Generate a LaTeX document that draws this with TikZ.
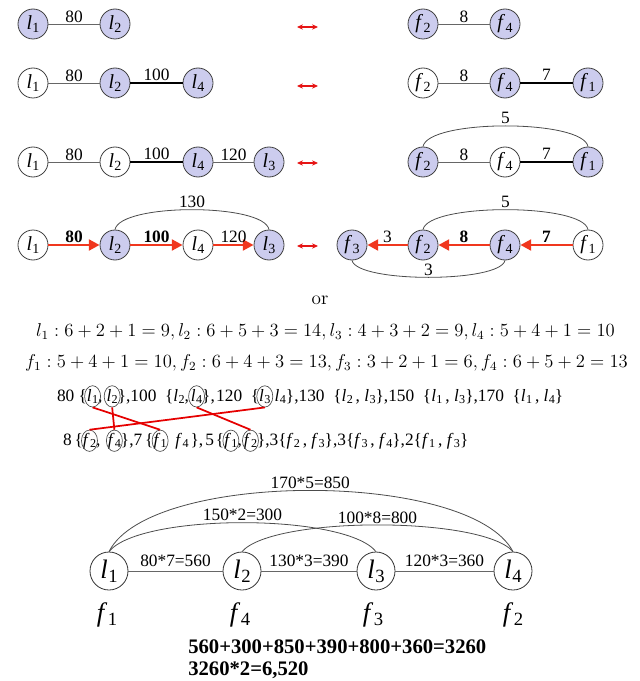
\documentclass[tikz,border=0pt]{standalone}
\usepackage[no-math]{fontspec}
\setmainfont{Liberation Serif}
\usepackage{graphicx}
\usetikzlibrary{shapes.geometric,arrows.meta}
\definecolor{lav}{RGB}{204,204,238}
\definecolor{redarr}{RGB}{240,55,30}
\definecolor{dblred}{RGB}{230,20,20}
\newcommand\vv[2]{\textit{#1}\kern0.02em\raisebox{-0.35ex}{\scalebox{0.7}{#2}}}
\begin{document}
\begin{tikzpicture}[x=0.75pt,y=-0.75pt,
 gn/.style={circle,draw=black!75,line width=0.6pt,minimum size=22.5pt,inner sep=0pt,font=\fontsize{15}{15}\selectfont},
 on/.style={gn,fill=lav},
 off/.style={gn,fill=white},
 thinl/.style={draw=black!60,line width=0.7pt},
 thickl/.style={draw=black,line width=1.8pt},
 lab/.style={font=\fontsize{13}{13}\selectfont,inner sep=1pt},
 rarr/.style={draw=redarr,line width=2.2pt,-{Triangle[length=8pt,width=8pt]}},
 dbl/.style={draw=dblred,line width=1.2pt,{Stealth[length=4.5pt,width=4pt]}-{Stealth[length=4.5pt,width=4pt]}},
 arcl/.style={draw=black!70,line width=0.6pt},
 seq/.style={anchor=base west,inner sep=0pt,outer sep=0pt,font=\fontsize{13}{13}\selectfont},
 ring/.style={ellipse,draw=black!70,line width=0.5pt,minimum width=12pt,minimum height=16pt,inner sep=0pt},
 link/.style={draw=red!90!black,line width=1.3pt},
 bn/.style={circle,draw=black!80,line width=0.6pt,fill=white,minimum size=28.5pt,inner sep=0pt,font=\fontsize{20}{20}\selectfont},
 blab/.style={font=\fontsize{13}{13}\selectfont,inner sep=1pt,above=2pt},
 flab/.style={font=\fontsize{20}{20}\selectfont,inner sep=0pt},
]
\useasboundingbox (0,0) rectangle (639,681);

% ---------- row 1
\node[on] (r1a) at (33,24) {\vv l1};
\node[on] (r1b) at (115,24) {\vv l2};
\draw[thinl] (r1a) -- node[lab,above]{80} (r1b);
\coordinate (d1a) at (297,27); \coordinate (d1b) at (318,27);
\draw[dbl] (d1a) -- (d1b);
\node[on] (r1c) at (423,24) {\vv f2};
\node[on] (r1d) at (505,24) {\vv f4};
\draw[thinl] (r1c) -- node[lab,above]{8} (r1d);

% ---------- row 2
\node[off] (r2a) at (33,83) {\vv l1};
\node[on] (r2b) at (115,83) {\vv l2};
\node[on] (r2c) at (198,83) {\vv l4};
\draw[thinl] (r2a) -- node[lab,above]{80} (r2b);
\draw[thickl] (r2b) -- node[lab,above]{100} (r2c);
\coordinate (d2a) at (297,86); \coordinate (d2b) at (318,86);
\draw[dbl] (d2a) -- (d2b);
\node[off] (r2d) at (423,83) {\vv f2};
\node[on] (r2e) at (505,83) {\vv f4};
\node[on] (r2f) at (588,83) {\vv f1};
\draw[thinl] (r2d) -- node[lab,above]{8} (r2e);
\draw[thickl] (r2e) -- node[lab,above]{7} (r2f);

% ---------- row 3
\node[off] (r3a) at (33,162) {\vv l1};
\node[off] (r3b) at (115,162) {\vv l2};
\node[on] (r3c) at (198,162) {\vv l4};
\node[on] (r3d) at (269,162) {\vv l3};
\draw[thinl] (r3a) -- node[lab,above]{80} (r3b);
\draw[thickl] (r3b) -- node[lab,above]{100} (r3c);
\draw[thinl] (r3c) -- node[lab,above]{120} (r3d);
\coordinate (d3a) at (297,163); \coordinate (d3b) at (318,163);
\draw[dbl] (d3a) -- (d3b);
\node[on] (r3e) at (423,162) {\vv f2};
\node[off] (r3f) at (505,162) {\vv f4};
\node[on] (r3g) at (588,162) {\vv f1};
\draw[thinl] (r3e) -- node[lab,above]{8} (r3f);
\draw[thickl] (r3f) -- node[lab,above]{7} (r3g);
\draw[arcl] (r3e.north) .. controls (428,119) and (583,119) .. node[lab,above]{5} (r3g.north);

% ---------- row 4
\node[off] (r4a) at (33,245) {\vv l1};
\node[on] (r4b) at (115,245) {\vv l2};
\node[off] (r4c) at (198,245) {\vv l4};
\node[on] (r4d) at (269,245) {\vv l3};
\draw[rarr] (r4a) -- node[lab,above]{\textbf{80}} (r4b);
\draw[rarr] (r4b) -- node[lab,above]{\textbf{100}} (r4c);
\draw[rarr] (r4c) -- node[lab,above]{120} (r4d);
\draw[arcl] (r4b.north) .. controls (120,203) and (264,203) .. node[lab,above]{130} (r4d.north);
\coordinate (d4a) at (297,246); \coordinate (d4b) at (318,246);
\draw[dbl] (d4a) -- (d4b);
\node[on] (r4e) at (352,245) {\vv f3};
\node[on] (r4f) at (423,245) {\vv f2};
\node[on] (r4g) at (505,245) {\vv f4};
\node[off] (r4h) at (588,245) {\vv f1};
\draw[rarr] (r4h) -- node[lab,above]{\textbf{7}} (r4g);
\draw[rarr] (r4g) -- node[lab,above]{\textbf{8}} (r4f);
\draw[rarr] (r4f) -- node[lab,above]{3} (r4e);
\draw[arcl] (r4f.north) .. controls (428,203) and (583,203) .. node[lab,above]{5} (r4h.north);
\draw[arcl] (r4e.south) .. controls (357,283) and (500,283) .. node[lab,above]{3} (r4g.south);

% ---------- or + sums
\node[font=\fontsize{14}{14}\selectfont] (orw) at (320,300) {$\mathrm{or}$};
\node[inner sep=0pt] (eq1) at (325.5,332) {\resizebox{434pt}{!}{\fontsize{12}{14}\selectfont $l_1 : 6+2+1=9, l_2 : 6+5+3=14, l_3 : 4+3+2=9, l_4 : 5+4+1=10$}};
\node[inner sep=0pt] (eq2) at (326.5,363) {\resizebox{452pt}{!}{\fontsize{12}{14}\selectfont $f_1 : 5+4+1=10, f_2 : 6+4+3=13, f_3 : 3+2+1=6, f_4 : 6+5+2=13$}};

% ---------- text chains
\node[seq] (s0) at (57,401) {80 \{};
\node[seq] (s1) at (s0.base east) {\vv l1};
\node[seq] (s2) at (s1.base east) {,\kern3pt};
\node[seq] (s3) at (s2.base east) {\vv l2};
\node[seq] (s4) at (s3.base east) {\},100\ \ \{\vv l2,\kern1.5pt};
\node[seq] (s5) at (s4.base east) {\vv l4};
\node[seq] (s6) at (s5.base east) {\},\kern1pt120\ \ \{};
\node[seq] (s7) at (s6.base east) {\vv l3};
\node[seq] (s8) at (s7.base east) {\ \vv l4\},130\ \ \{\vv l2\,,\ \vv l3\},150\ \ \{\vv l1\,,\ \vv l3\},170\ \ \{\vv l1\,,\ \vv l4\}};
\node[ring] (c1) at (s1.center) {};
\node[ring] (c3) at (s3.center) {};
\node[ring] (c5) at (s5.center) {};
\node[ring] (c7) at (s7.center) {};

\node[seq] (u0) at (63,445) {8\,\{};
\node[seq] (u1) at (u0.base east) {\vv f2};
\node[seq] (u2) at (u1.base east) {,\kern5.5pt};
\node[seq] (u3) at (u2.base east) {\vv f4};
\node[seq] (u4) at (u3.base east) {\},7\,\{};
\node[seq] (u5) at (u4.base east) {\vv f1};
\node[seq] (u6) at (u5.base east) {\ \ \vv f4\kern1.5pt\},\kern1.5pt5\kern1.5pt\{};
\node[seq] (u7) at (u6.base east) {\vv f1};
\node[seq] (u8) at (u7.base east) {,\kern1.5pt};
\node[seq] (u9) at (u8.base east) {\vv f2};
\node[seq] (u10) at (u9.base east) {\},3\{\vv f2\,,\ \vv f3\},3\{\vv f3\,,\ \vv f4\},2\{\vv f1\,,\ \vv f3\}};
\node[ring] (v1) at (u1.center) {};
\node[ring] (v3) at (u3.center) {};
\node[ring] (v5) at (u5.center) {};
\node[ring] (v7) at (u7.center) {};
\node[ring] (v9) at (u9.center) {};

\draw[link] (c1.south) -- (v5.north);
\draw[link] (c3.south) -- (v3.north);
\draw[link] (c7.south) -- (v1.north);
\draw[link] (c5.south) -- (v9.north);

% ---------- bottom graph
\node[bn] (b1) at (109,571) {\vv l1};
\node[bn] (b2) at (242,571) {\vv l2};
\node[bn] (b3) at (376,571) {\vv l3};
\node[bn] (b4) at (513,571) {\vv l4};
\draw[thinl] (b1) -- node[blab]{80*7=560} (b2);
\draw[thinl] (b2) -- node[blab]{130*3=390} (b3);
\draw[thinl] (b3) -- node[blab]{120*3=360} (b4);
\draw[arcl] (b1.north) .. controls (150,470) and (470,470) .. node[lab,above]{170*5=850} (b4.north);
\draw[arcl] (b1.north) .. controls (140,513) and (345,513) .. node[lab,above]{150*2=300} (b3.north);
\draw[arcl] (b2.north) .. controls (273,516) and (482,516) .. node[lab,above]{100*8=800} (b4.north);

\node[flab] (g1) at (107,615) {\vv f1};
\node[flab] (g2) at (240,615) {\vv f4};
\node[flab] (g3) at (373,615) {\vv f3};
\node[flab] (g4) at (513,615) {\vv f2};

\node[anchor=west,inner sep=0pt,font=\fontsize{15.5}{15.5}\selectfont\bfseries] (sum1) at (188,647) {560+300+850+390+800+360=3260};
\node[anchor=west,inner sep=0pt,font=\fontsize{15.5}{15.5}\selectfont\bfseries] (sum2) at (188,670) {3260*2=6,520};
\end{tikzpicture}
\end{document}
